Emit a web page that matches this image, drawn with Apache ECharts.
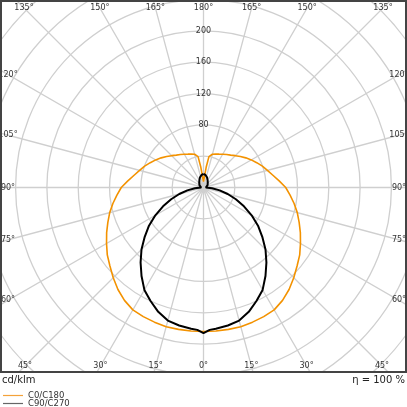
<!DOCTYPE html>
<html>
<head>
<meta charset="utf-8">
<script src="https://cdn.jsdelivr.net/npm/echarts@6/dist/echarts.min.js"></script>
<style>
html,body{margin:0;padding:0;background:#fff;}
#chart{width:407px;height:407px;}
</style>
</head>
<body>
<div id="chart"></div>
<script>
// ---- data (gamma angle in degrees, intensity in cd/klm) ----
const c0Gamma  = [0,5,10,15,20,25,30,35,40,45,50,55,60,65,70,75,80,85,90,95,100,105,110,115,120,125,130,135,140,145,150,155,160,165,170,172.5,175,177.5,180];
const c0Values = [184,184,184,184,183,182,180.5,176,170,163,156,150,143,136.5,130,124,117.5,111,105,97,90,84.5,80,75,70.5,66,61.5,57.5,54,51.5,49,47,45.5,44,40,26,14,9,7.5];
const c90Gamma  = [0,2.5,5,10,15,20,25,30,35,40,45,50,55,60,65,70,75,80,85,90,100,110,120,130,140,150,160,170,180];
const c90Values = [186,182,181,179,176,169,160,151,138,125,112,98,85,71,57,44,32,21,11,3,4,5,6,7,8.5,10.5,13.5,16,17.5];
const seriesNames = ['C0/C180','C90/C270'];
const radiusTicks = [80,120,160,200];
const angleTicks = [0,15,30,45,60,75,90,105,120,135,150,165,180,195,210,225,240,255,270,285,300,315,330,345];
const unitText = 'cd/klm';
const etaText = 'η = 100 %';

// ---- layout ----
const CX = 203.5, CY = 187.5, PX_PER_UNIT = 0.783, RMAX = 360;
const BOX = {x0:0, y0:0, x1:406, y1:372};
const LBL = {xl:8, xr:399, yt:8, yb:366};

function toPolar(gam, vals){
  const out = [];
  for (let i = gam.length-1; i >= 0; i--) out.push([vals[i], 180 - gam[i]]);
  for (let i = 1; i < gam.length; i++) out.push([vals[i], 180 + gam[i]]);
  return out;
}

function angleLabel(v){
  const g = v <= 180 ? 180 - v : v - 180;
  return g + '°';
}

function labelPos(v){
  const a = v*Math.PI/180;
  const dx = Math.sin(a), dy = -Math.cos(a);
  let t = Infinity;
  if (dx > 1e-9) t = Math.min(t, (LBL.xr-CX)/dx);
  if (dx < -1e-9) t = Math.min(t, (LBL.xl-CX)/dx);
  if (dy > 1e-9) t = Math.min(t, (LBL.yb-CY)/dy);
  if (dy < -1e-9) t = Math.min(t, (LBL.yt-CY)/dy);
  return [CX + dx*t, CY + dy*t];
}

const FONT = '"DejaVu Sans", sans-serif';
const graphics = [
  {type:'rect', z:100, shape:{x:0, y:BOX.y1, width:407, height:407-BOX.y1}, style:{fill:'#fff'}},
  {type:'rect', z:101, shape:{x:BOX.x0+1, y:BOX.y0+1, width:BOX.x1-BOX.x0-1, height:BOX.y1-BOX.y0-1}, style:{fill:null, stroke:'#444', lineWidth:2}},
  {type:'text', z:102, x:2, y:380, style:{text:unitText, font:'10px '+FONT, fill:'#222', verticalAlign:'middle', textVerticalAlign:'middle'}},
  {type:'text', z:102, x:405, y:380, style:{text:etaText, font:'10px '+FONT, fill:'#222', align:'right', textAlign:'right', verticalAlign:'middle', textVerticalAlign:'middle'}}
];
angleTicks.forEach(v => {
  const p = labelPos(v);
  graphics.push({type:'text', z:99, x:p[0], y:p[1], style:{text:angleLabel(v), font:'8px '+FONT, fill:'#333', align:'center', textAlign:'center', verticalAlign:'middle', textVerticalAlign:'middle'}});
});

const legendColors = ['#f4a23a', '#666666'];
const legendBase = {
  orient:'vertical', left:3, padding:0, itemWidth:20, itemHeight:1.2, itemGap:0, z:200,
  icon:'rect', textStyle:{fontSize:8.5, color:'#333', fontFamily:FONT}
};

const chart = echarts.init(document.getElementById('chart'), null, {renderer:'canvas'});
chart.setOption({
  animation:false,
  backgroundColor:'#fff',
  polar:{center:[CX, CY], radius: RMAX*PX_PER_UNIT},
  angleAxis:{
    type:'value', min:0, max:360, interval:15, startAngle:90, clockwise:true,
    axisLine:{show:false}, axisTick:{show:false}, axisLabel:{show:false},
    splitLine:{show:true, lineStyle:{color:'#cfcfcf', width:1.3}}
  },
  radiusAxis:{
    type:'value', min:0, max:RMAX, interval:40,
    axisLine:{show:false}, axisTick:{show:false},
    axisLabel:{
      show:true, margin:0, align:'center', verticalAlign:'middle',
      fontSize:8, color:'#333', fontFamily:FONT,
      formatter: v => radiusTicks.indexOf(v) >= 0 ? String(v) : ''
    },
    splitLine:{show:true, lineStyle:{color:'#cfcfcf', width:1.3}}
  },
  legend: seriesNames.map((n, i) => Object.assign({}, legendBase, {
    top: 391 + i*8,
    itemStyle:{color:legendColors[i]},
    data:[{name:n, itemStyle:{color:legendColors[i]}}]
  })),
  series:[
    {name:seriesNames[0], type:'line', coordinateSystem:'polar', data:toPolar(c0Gamma,c0Values),
     symbol:'none', smooth:false, lineStyle:{color:'#f39200', width:1.6}, itemStyle:{color:'#f39200'}, z:3},
    {name:seriesNames[1], type:'line', coordinateSystem:'polar', data:toPolar(c90Gamma,c90Values),
     symbol:'none', smooth:false, lineStyle:{color:'#000', width:2}, itemStyle:{color:'#000'}, z:4}
  ],
  graphic:graphics
});
</script>
</body>
</html>
